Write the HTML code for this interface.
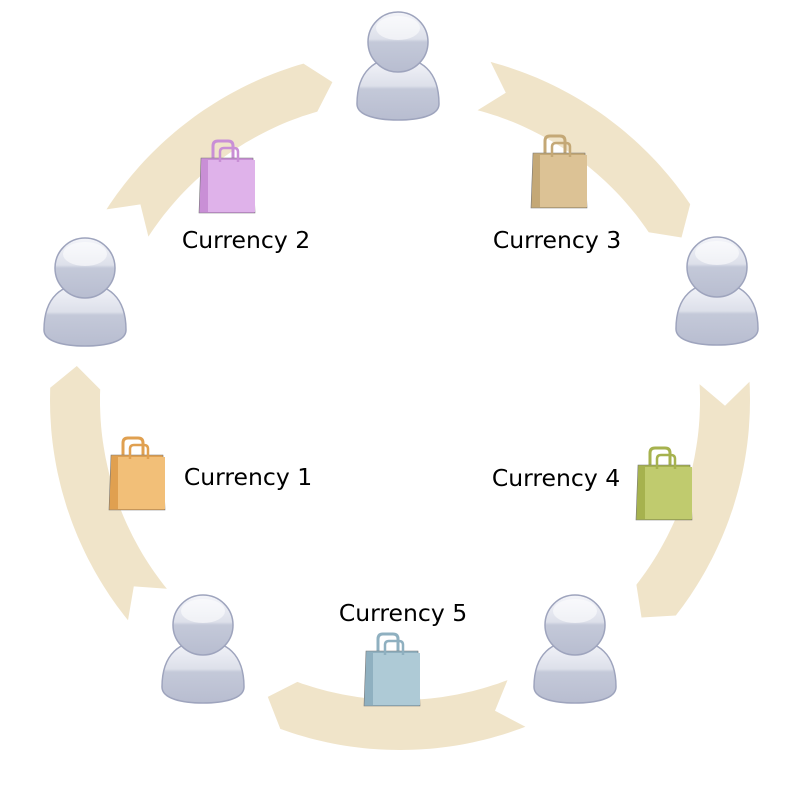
<!DOCTYPE html>
<html><head><meta charset="utf-8"><style>
html,body{margin:0;padding:0;background:#fff;}
svg{display:block}
text{font-family:"DejaVu Sans","Liberation Sans",sans-serif;font-size:23.5px;fill:#000}
</style></head><body>
<svg id="s" width="800" height="800" viewBox="0 0 800 800" xmlns="http://www.w3.org/2000/svg">
<defs>
<linearGradient id="pg" x1="0" y1="0" x2="0" y2="1">
<stop offset="0" stop-color="#f4f5fa"/><stop offset="0.45" stop-color="#dde0ea"/><stop offset="0.5" stop-color="#c4c9d9"/><stop offset="1" stop-color="#b8bdd0"/></linearGradient>
<g id="person">
<path d="M-41,44 C-41,10 -22,-2 0,-2 C22,-2 41,10 41,44 C41,56 20,60 0,60 C-20,60 -41,56 -41,44Z" fill="url(#pg)" stroke="#9ea4bd" stroke-width="1.5"/>
<circle cx="0" cy="-18" r="30" fill="url(#pg)" stroke="#9ea4bd" stroke-width="1.5"/>
<ellipse cx="0" cy="-32" rx="22" ry="12" fill="#fff" opacity="0.55"/>
</g>
</defs>
<g id="arrows" fill="#f0e4c9"></g>
<use href="#person" x="398" y="60"/>
<use href="#person" x="717" y="285"/>
<use href="#person" x="575" y="643"/>
<use href="#person" x="203" y="643"/>
<use href="#person" x="85" y="286"/>
<g id="bags"></g>
<text x="246" y="248" text-anchor="middle">Currency 2</text>
<text x="557" y="248" text-anchor="middle">Currency 3</text>
<text x="248" y="485" text-anchor="middle">Currency 1</text>
<text x="556" y="486" text-anchor="middle">Currency 4</text>
<text x="403" y="621" text-anchor="middle">Currency 5</text>
</svg>
<script>
var ns="http://www.w3.org/2000/svg";
function P(r,a){a=a*Math.PI/180;return (400+r*Math.cos(a)).toFixed(1)+","+(400+r*Math.sin(a)).toFixed(1);}
var g=document.getElementById("arrows");
[141,213,285,357,69].forEach(function(s){
 var ri=300,ro=350,rm=325,pts=[];
 var hb=s+41,tip=s+45,notch=s+4;
 for(var a=s;a<=hb;a+=1)pts.push(P(ro,a));
 pts.push(P(rm,tip));
 for(var a=hb;a>=s;a-=1)pts.push(P(ri,a));
 pts.push(P(rm,notch));
 var p=document.createElementNS(ns,"polygon");p.setAttribute("points",pts.join(" "));g.appendChild(p);
});
var bg=document.getElementById("bags");
[[228,180,"#c98fd6","#dfb2ea"],[560,175,"#c4a876","#dcc295"],[138,477,"#e0a050","#f2bf78"],[665,487,"#a6b24e","#c0cb6e"],[393,673,"#8fb0c0","#aecad6"]].forEach(function(b){
 var x=b[0],y=b[1];
 var h='<g transform="translate('+x+','+y+')">'+
 '<path d="M-15,-22 v-12 q0,-5 5,-5 h10 q5,0 5,5 v12" fill="none" stroke="'+b[2]+'" stroke-width="3"/>'+
 '<path d="M-27,-22 L25,-22 L27,33 L-29,33 Z" fill="'+b[2]+'" stroke="#777" stroke-width="0.6"/>'+
 '<path d="M-20,-20 L27,-20 L27,32 L-20,32 Z" fill="'+b[3]+'"/>'+
 '<path d="M-8,-18 v-10 q0,-4 4,-4 h10 q4,0 4,4 v10" fill="none" stroke="'+b[2]+'" stroke-width="2.5"/>'+
 '</g>';
 bg.insertAdjacentHTML("beforeend",h);
});
</script>
</body></html>
